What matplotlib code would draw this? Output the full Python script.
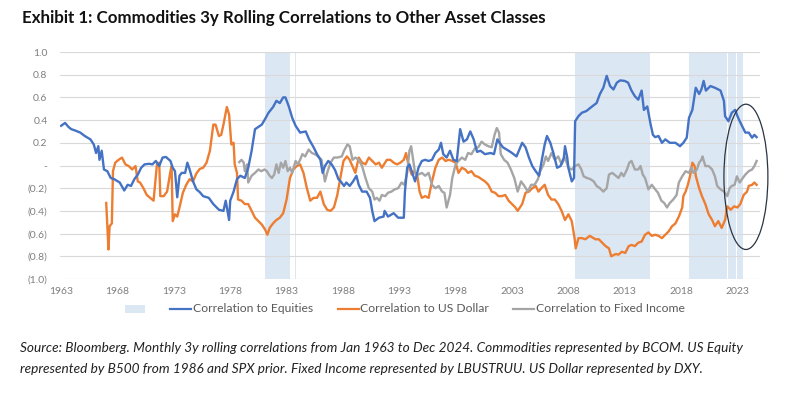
import matplotlib
matplotlib.use("Agg")
import matplotlib.pyplot as plt
from matplotlib.patches import Ellipse, Rectangle
from matplotlib.lines import Line2D
from matplotlib.ticker import FuncFormatter

# ---------------- data ----------------
eq_years = [1963.0, 1963.35, 1963.65, 1963.9, 1964.2, 1964.7, 1965.1, 1965.6, 1965.9, 1966.1, 1966.3, 1966.4,
            1966.6, 1966.8, 1967.1, 1967.4, 1967.7, 1968.2, 1968.6, 1968.9, 1969.2, 1969.5, 1969.8, 1970.1,
            1970.4, 1970.8, 1971.1, 1971.4, 1971.7, 1972.0, 1972.3, 1972.7, 1972.9, 1973.1, 1973.3, 1973.5,
            1973.7, 1974.0, 1974.2, 1974.4, 1974.7, 1975.0, 1975.3, 1975.6, 1976.1, 1976.5, 1977.0, 1977.4,
            1977.6, 1977.9, 1978.0, 1978.3, 1978.6, 1978.9, 1979.3, 1979.6, 1979.9, 1980.2, 1980.5, 1980.8,
            1981.1, 1981.4, 1981.8, 1982.1, 1982.4, 1982.7, 1982.9, 1983.2, 1983.5, 1983.8, 1984.2, 1984.7,
            1985.0, 1985.4, 1985.7, 1986.0, 1986.2, 1986.4, 1986.7, 1987.0, 1987.3, 1987.6, 1987.8, 1988.1,
            1988.3, 1988.6, 1988.9, 1989.2, 1989.4, 1989.7, 1990.1, 1990.4, 1990.6, 1990.8, 1991.2, 1991.6,
            1991.7, 1992.0, 1992.5, 1992.9, 1993.4, 1993.5, 1993.7, 1993.9, 1994.1, 1994.4, 1994.7, 1995.0,
            1995.3, 1995.6, 1995.9, 1996.2, 1996.5, 1996.7, 1996.9, 1997.2, 1997.5, 1997.8, 1998.1, 1998.4,
            1998.7, 1999.0, 1999.3, 1999.6, 1999.9, 2000.2, 2000.6, 2001.1, 2001.4, 2001.7, 2001.9, 2002.2,
            2002.7, 2003.0, 2003.4, 2003.9, 2004.2, 2004.5, 2004.8, 2005.1, 2005.4, 2005.6, 2005.9, 2006.1,
            2006.4, 2006.7, 2007.0, 2007.3, 2007.6, 2007.7, 2007.9, 2008.0, 2008.3, 2008.5, 2008.6, 2008.9,
            2009.2, 2009.6, 2010.1, 2010.5, 2010.8, 2011.1, 2011.4, 2011.7, 2012.0, 2012.3, 2012.6, 2013.0,
            2013.3, 2013.6, 2013.9, 2014.2, 2014.5, 2014.7, 2015.0, 2015.3, 2015.5, 2015.7, 2016.0, 2016.3,
            2016.6, 2017.0, 2017.5, 2017.9, 2018.2, 2018.5, 2018.7, 2019.0, 2019.3, 2019.6, 2019.8, 2020.0,
            2020.2, 2020.6, 2021.0, 2021.5, 2021.8, 2021.9, 2022.2, 2022.5, 2022.8, 2023.0, 2023.2, 2023.4,
            2023.7, 2024.0, 2024.3, 2024.5, 2024.7]
eq_values = [0.35, 0.375, 0.34, 0.32, 0.31, 0.29, 0.26, 0.23, 0.185, 0.11, 0.17, 0.05,
             0.13, -0.035, -0.05, -0.11, -0.12, -0.15, -0.22, -0.17, -0.18, -0.12, -0.08, -0.02,
             0.01, 0.015, 0.01, 0.04, -0.005, 0.07, 0.075, 0.04, -0.02, -0.05, -0.28, -0.09,
             -0.065, -0.065, 0.025, -0.035, -0.14, -0.21, -0.235, -0.27, -0.285, -0.34, -0.39, -0.40,
             -0.31, -0.48, -0.31, -0.23, -0.12, -0.09, -0.11, -0.02, 0.13, 0.32, 0.34, 0.36,
             0.41, 0.465, 0.515, 0.57, 0.55, 0.60, 0.60, 0.52, 0.42, 0.35, 0.29, 0.30,
             0.23, 0.16, 0.10, 0.05, -0.065, -0.005, 0.04, 0.01, -0.04, -0.12, -0.14, -0.18,
             -0.15, -0.18, -0.14, -0.09, -0.17, -0.23, -0.23, -0.285, -0.40, -0.49, -0.46, -0.45,
             -0.40, -0.45, -0.42, -0.46, -0.46, -0.23, -0.02, 0.01, -0.05, -0.14, -0.02, 0.04,
             0.05, 0.04, 0.05, 0.11, 0.14, 0.20, 0.10, 0.07, 0.13, 0.05, 0.04, 0.32,
             0.21, 0.23, 0.30, 0.23, 0.12, 0.13, 0.10, 0.11, 0.10, 0.23, 0.20, 0.16,
             0.13, 0.11, 0.08, 0.20, 0.16, 0.07, -0.005, -0.05, -0.09, 0.025, 0.185, 0.26,
             0.20, 0.10, -0.02, -0.005, 0.07, 0.17, 0.07, -0.02, -0.14, -0.11, 0.39, 0.435,
             0.465, 0.48, 0.52, 0.55, 0.63, 0.685, 0.79, 0.70, 0.67, 0.73, 0.75, 0.745,
             0.73, 0.66, 0.61, 0.58, 0.66, 0.49, 0.52, 0.36, 0.27, 0.25, 0.26, 0.20,
             0.23, 0.20, 0.20, 0.17, 0.20, 0.245, 0.42, 0.49, 0.685, 0.63, 0.67, 0.745,
             0.66, 0.70, 0.685, 0.66, 0.57, 0.435, 0.39, 0.465, 0.49, 0.435, 0.39, 0.35,
             0.29, 0.29, 0.245, 0.27, 0.25]

usd_years = [1967.0, 1967.2, 1967.3, 1967.5, 1967.6, 1967.8, 1968.1, 1968.4, 1968.7, 1969.0, 1969.3, 1969.6,
             1969.8, 1970.0, 1970.3, 1970.6, 1970.9, 1971.2, 1971.5, 1971.7, 1971.8, 1972.1, 1972.4, 1972.7,
             1972.8, 1972.9, 1973.1, 1973.3, 1973.5, 1973.8, 1974.1, 1974.4, 1974.7, 1975.0, 1975.3, 1975.6,
             1975.9, 1976.2, 1976.5, 1976.7, 1977.0, 1977.2, 1977.4, 1977.7, 1977.9, 1978.1, 1978.3, 1978.4,
             1978.6, 1978.7, 1979.0, 1979.3, 1979.6, 1979.9, 1980.2, 1980.5, 1980.8, 1981.1, 1981.3, 1981.5,
             1981.8, 1982.1, 1982.4, 1982.7, 1983.0, 1983.3, 1983.6, 1983.9, 1984.2, 1984.5, 1984.8, 1985.1,
             1985.4, 1985.7, 1986.0, 1986.3, 1986.6, 1986.9, 1987.2, 1987.5, 1987.75, 1988.05, 1988.35, 1988.6,
             1988.9, 1989.1, 1989.4, 1989.7, 1990.0, 1990.3, 1990.6, 1990.9, 1991.2, 1991.45, 1991.9, 1992.2,
             1992.5, 1992.8, 1993.1, 1993.4, 1993.6, 1993.8, 1994.1, 1994.3, 1994.6, 1994.8, 1995.0, 1995.3,
             1995.6, 1995.9, 1996.2, 1996.5, 1996.8, 1997.1, 1997.4, 1997.7, 1998.0, 1998.25, 1998.55, 1998.85,
             1999.1, 1999.4, 1999.7, 2000.0, 2000.3, 2000.6, 2000.9, 2001.2, 2001.5, 2001.8, 2002.1, 2002.4,
             2002.7, 2003.0, 2003.3, 2003.5, 2003.9, 2004.2, 2004.5, 2004.8, 2005.1, 2005.35, 2005.6, 2005.9,
             2006.2, 2006.5, 2006.8, 2007.1, 2007.4, 2007.7, 2008.0, 2008.3, 2008.55, 2008.65, 2008.9, 2009.2,
             2009.5, 2009.9, 2010.4, 2010.7, 2011.0, 2011.3, 2011.6, 2011.8, 2012.2, 2012.45, 2012.75, 2013.05,
             2013.35, 2013.6, 2013.9, 2014.2, 2014.5, 2014.8, 2015.1, 2015.4, 2015.7, 2016.0, 2016.3, 2016.6,
             2016.9, 2017.2, 2017.5, 2017.8, 2018.1, 2018.2, 2018.4, 2018.6, 2018.8, 2019.0, 2019.2, 2019.3,
             2019.6, 2019.85, 2020.15, 2020.45, 2020.75, 2021.0, 2021.3, 2021.6, 2021.9, 2022.1, 2022.4, 2022.7,
             2023.0, 2023.25, 2023.55, 2023.85, 2024.0, 2024.3, 2024.5, 2024.7]
usd_values = [-0.33, -0.74, -0.535, -0.51, -0.05, 0.025, 0.05, 0.07, 0.01, -0.005, -0.035, -0.005,
              -0.14, -0.15, -0.20, -0.26, -0.285, -0.31, 0.01, 0.025, -0.27, -0.27, -0.23, -0.05,
              -0.005, -0.49, -0.43, -0.45, -0.37, -0.24, -0.17, -0.12, -0.14, -0.07, -0.03, -0.02,
              0.025, 0.13, 0.36, 0.36, 0.26, 0.27, 0.36, 0.515, 0.45, 0.185, 0.20, 0.01,
              -0.065, -0.30, -0.31, -0.34, -0.34, -0.40, -0.46, -0.49, -0.52, -0.565, -0.61, -0.55,
              -0.51, -0.48, -0.46, -0.42, -0.30, -0.11, -0.035, -0.005, 0.01, -0.065, -0.20, -0.31,
              -0.285, -0.285, -0.23, -0.34, -0.39, -0.40, -0.37, -0.26, -0.12, 0.04, 0.08, 0.05,
              -0.02, -0.065, 0.07, 0.025, 0.01, 0.07, 0.04, 0.01, 0.025, -0.02, 0.05, 0.05,
              0.025, 0.01, 0.025, 0.05, 0.11, 0.01, -0.08, -0.05, -0.09, -0.23, -0.285, -0.27,
              -0.285, -0.14, -0.02, 0.05, 0.07, 0.04, 0.05, 0.04, 0.025, -0.065, -0.02, -0.035,
              -0.065, -0.05, -0.09, -0.10, -0.12, -0.14, -0.17, -0.23, -0.24, -0.27, -0.27, -0.26,
              -0.31, -0.34, -0.37, -0.40, -0.34, -0.24, -0.23, -0.20, -0.18, -0.23, -0.20, -0.17,
              -0.26, -0.30, -0.30, -0.34, -0.40, -0.48, -0.43, -0.49, -0.64, -0.73, -0.64, -0.64,
              -0.65, -0.62, -0.65, -0.65, -0.68, -0.71, -0.73, -0.80, -0.78, -0.785, -0.76, -0.77,
              -0.71, -0.70, -0.71, -0.68, -0.67, -0.61, -0.59, -0.62, -0.61, -0.62, -0.64, -0.61,
              -0.58, -0.535, -0.51, -0.45, -0.37, -0.27, -0.23, -0.17, -0.09, 0.025, -0.005, -0.09,
              -0.20, -0.27, -0.34, -0.43, -0.48, -0.535, -0.49, -0.55, -0.48, -0.36, -0.39, -0.36,
              -0.37, -0.34, -0.26, -0.23, -0.18, -0.17, -0.15, -0.17]

fi_years = [1978.8, 1979.0, 1979.2, 1979.3, 1979.5, 1979.6, 1979.9, 1980.2, 1980.5, 1980.75, 1981.05, 1981.25,
            1981.5, 1981.7, 1981.9, 1982.1, 1982.3, 1982.5, 1982.7, 1982.9, 1983.1, 1983.3, 1983.5, 1983.8,
            1984.0, 1984.2, 1984.4, 1984.65, 1984.95, 1985.25, 1985.5, 1985.8, 1986.1, 1986.4, 1986.6, 1986.9,
            1987.2, 1987.5, 1987.9, 1988.1, 1988.4, 1988.6, 1988.85, 1989.1, 1989.4, 1989.7, 1990.0, 1990.3,
            1990.6, 1990.8, 1991.0, 1991.25, 1991.45, 1991.75, 1992.0, 1992.3, 1992.6, 1992.9, 1993.2, 1993.45,
            1993.7, 1993.9, 1994.05, 1994.2, 1994.4, 1994.7, 1995.0, 1995.3, 1995.6, 1995.9, 1996.2, 1996.5,
            1996.8, 1997.0, 1997.2, 1997.5, 1997.7, 1998.0, 1998.25, 1998.55, 1998.85, 1999.1, 1999.4, 1999.7,
            2000.0, 2000.3, 2000.6, 2000.9, 2001.2, 2001.45, 2001.65, 2001.85, 2002.0, 2002.3, 2002.6, 2002.9,
            2003.2, 2003.5, 2003.8, 2004.1, 2004.4, 2004.7, 2005.0, 2005.3, 2005.5, 2005.8, 2006.0, 2006.2,
            2006.5, 2006.8, 2007.1, 2007.4, 2007.7, 2008.0, 2008.3, 2008.6, 2008.9, 2009.15, 2009.35, 2009.65,
            2009.95, 2010.25, 2010.5, 2010.8, 2011.1, 2011.4, 2011.6, 2011.9, 2012.2, 2012.45, 2012.7, 2012.9,
            2013.2, 2013.4, 2013.6, 2013.9, 2014.2, 2014.4, 2014.6, 2014.8, 2015.1, 2015.4, 2015.7, 2015.95,
            2016.25, 2016.5, 2016.75, 2017.0, 2017.3, 2017.6, 2017.8, 2018.1, 2018.4, 2018.7, 2018.9, 2019.1,
            2019.4, 2019.6, 2019.8, 2019.9, 2020.15, 2020.45, 2020.75, 2021.0, 2021.2, 2021.5, 2021.8, 2022.1,
            2022.3, 2022.5, 2022.75, 2022.95, 2023.2, 2023.4, 2023.7, 2024.0, 2024.3, 2024.5, 2024.7]
fi_values = [0.03, 0.05, 0.025, -0.05, 0.01, -0.15, -0.09, -0.065, -0.035, -0.05, -0.035, -0.05,
             -0.09, -0.11, -0.08, 0.01, -0.065, 0.025, -0.02, 0.04, -0.05, -0.02, -0.065, 0.04,
             0.01, 0.05, 0.10, 0.08, 0.14, 0.11, 0.10, 0.08, 0.05, -0.14, -0.065, 0.025,
             0.07, 0.07, 0.08, 0.13, 0.185, 0.17, 0.05, 0.07, 0.05, -0.005, -0.11, -0.20,
             -0.23, -0.30, -0.285, -0.31, -0.26, -0.27, -0.24, -0.23, -0.21, -0.20, -0.15, -0.17,
             -0.065, 0.13, 0.17, 0.07, -0.065, -0.08, -0.065, -0.09, -0.065, -0.17, -0.20, -0.18,
             -0.23, -0.24, -0.37, -0.26, -0.11, 0.01, 0.04, 0.07, 0.05, 0.11, 0.10, 0.15,
             0.16, 0.21, 0.185, 0.17, 0.16, 0.27, 0.33, 0.29, 0.10, 0.05, 0.025, -0.035,
             -0.11, -0.23, -0.14, -0.18, -0.23, -0.17, -0.17, -0.12, -0.05, 0.01, 0.08, 0.04,
             0.11, 0.05, 0.08, 0.01, 0.07, -0.02, -0.035, -0.005, 0.01, -0.035, -0.095, -0.11,
             -0.12, -0.14, -0.18, -0.20, -0.23, -0.20, -0.08, -0.065, -0.09, -0.11, -0.065, -0.095,
             -0.035, 0.025, 0.04, -0.035, -0.035, -0.005, -0.08, -0.11, -0.21, -0.17, -0.21, -0.24,
             -0.31, -0.33, -0.37, -0.33, -0.30, -0.26, -0.15, -0.095, -0.05, -0.065, -0.02, -0.065,
             -0.035, 0.025, 0.05, 0.08, -0.005, -0.005, -0.035, -0.095, -0.18, -0.21, -0.23, -0.27,
             -0.20, -0.18, -0.17, -0.095, -0.15, -0.12, -0.08, -0.05, -0.035, -0.005, 0.04]

shade_starts = [1981.1, 1983.75, 2008.6, 2018.7, 2022.15, 2023.0]
shade_ends = [1983.3, 1983.85, 2015.2, 2022.05, 2022.9, 2023.45]

year_ticks = list(range(1963, 2024, 5))
y_ticks = [1.0, 0.8, 0.6, 0.4, 0.2, 0.0, -0.2, -0.4, -0.6, -0.8, -1.0]

series_labels = ["Correlation to Equities", "Correlation to US Dollar", "Correlation to Fixed Income"]

title_text = "Exhibit 1: Commodities 3y Rolling Correlations to Other Asset Classes"
source_lines = [
    "Source: Bloomberg. Monthly 3y rolling correlations from Jan 1963 to Dec 2024. Commodities represented by BCOM. US Equity",
    "represented by B500 from 1986 and SPX prior. Fixed Income represented by LBUSTRUU. US Dollar represented by DXY.",
]

# ---------------- style ----------------
BLUE = "#4472C4"
ORANGE = "#ED7D31"
GRAY = "#A5A5A5"
SHADE = "#DCE7F4"
TXT = "#595959"
FONT = "Lato"

W, H = 800, 395
fig = plt.figure(figsize=(W / 100, H / 100), dpi=100)
fig.patch.set_facecolor("white")

def fx(px):
    return px / W

def fy(py):
    return 1 - py / H

ax = fig.add_axes([fx(60), fy(279), fx(760) - fx(60), fy(52) - fy(279)])
ax.set_xlim(1962.9, 2025.0)
ax.set_ylim(-1.0, 1.0)

for s, e in zip(shade_starts, shade_ends):
    ax.axvspan(s, e, color=SHADE, lw=0, zorder=0)

for yv in y_ticks:
    ax.axhline(yv, color="#D9D9D9", lw=0.8, zorder=0.5)

lw = 1.7
ax.plot(eq_years, eq_values, color=BLUE, lw=lw, zorder=3, solid_joinstyle="round")
ax.plot(usd_years, usd_values, color=ORANGE, lw=lw, zorder=2, solid_joinstyle="round")
ax.plot(fi_years, fi_values, color=GRAY, lw=lw, zorder=2.5, solid_joinstyle="round")

# Ellipse highlight
ell = Ellipse((2023.75, -0.10), width=3.9, height=1.28, fill=False, edgecolor="#2B3442", lw=0.9,
              zorder=4, clip_on=False)
ax.add_patch(ell)

def yfmt(v, pos):
    if abs(v) < 1e-9:
        return "-"
    if v < 0:
        return "({:.1f})".format(-v)
    return "{:.1f}".format(v)

ax.set_yticks(y_ticks)
ax.yaxis.set_major_formatter(FuncFormatter(yfmt))
ax.set_xticks(year_ticks)
ax.set_xticklabels([str(y) for y in year_ticks])
ax.tick_params(axis="both", length=0, labelsize=7.5, labelcolor="#7F7F7F")
ax.tick_params(axis="y", pad=9)
ax.tick_params(axis="x", pad=6)
for lab in ax.get_xticklabels() + ax.get_yticklabels():
    lab.set_fontfamily(FONT)
for sp in ax.spines.values():
    sp.set_visible(False)

renderer = fig.canvas.get_renderer()

def fit_width(txt_obj, target_px):
    w = txt_obj.get_window_extent(renderer=renderer).width
    txt_obj.set_fontsize(txt_obj.get_fontsize() * target_px / w)

# Title
t = fig.text(fx(22), fy(18), title_text, fontsize=12.5, fontweight="bold", fontfamily=FONT,
             color="#111111", ha="left", va="center")
fit_width(t, 523)

# Legend (manual)
leg_y = fy(309)
fig.add_artist(Rectangle((fx(125), fy(313)), fx(145) - fx(125), fy(305) - fy(313),
                         transform=fig.transFigure, facecolor=SHADE, edgecolor="none"))
leg_items = [(170, 193, BLUE), (338, 360, ORANGE), (513, 536, GRAY)]
for (lx, tx, c), lab in zip(leg_items, series_labels):
    fig.add_artist(Line2D([fx(lx), fx(lx + 21)], [leg_y, leg_y], transform=fig.transFigure,
                          color=c, lw=1.6))
    fig.text(fx(tx), leg_y, lab, fontsize=8.7, fontfamily=FONT, color=TXT, ha="left", va="center")

# Source
src = []
for i, line in enumerate(source_lines):
    src.append(fig.text(fx(20), fy(348 + 21 * i), line, fontsize=8.2, fontfamily=FONT, style="italic",
                        color="#222222", ha="left", va="center"))
w1 = src[0].get_window_extent(renderer=renderer).width
w2 = src[1].get_window_extent(renderer=renderer).width
scale = ((722 / w1) + (676 / w2)) / 2
for s in src:
    s.set_fontsize(s.get_fontsize() * scale)

fig.savefig("out.png", dpi=100, facecolor="white")
